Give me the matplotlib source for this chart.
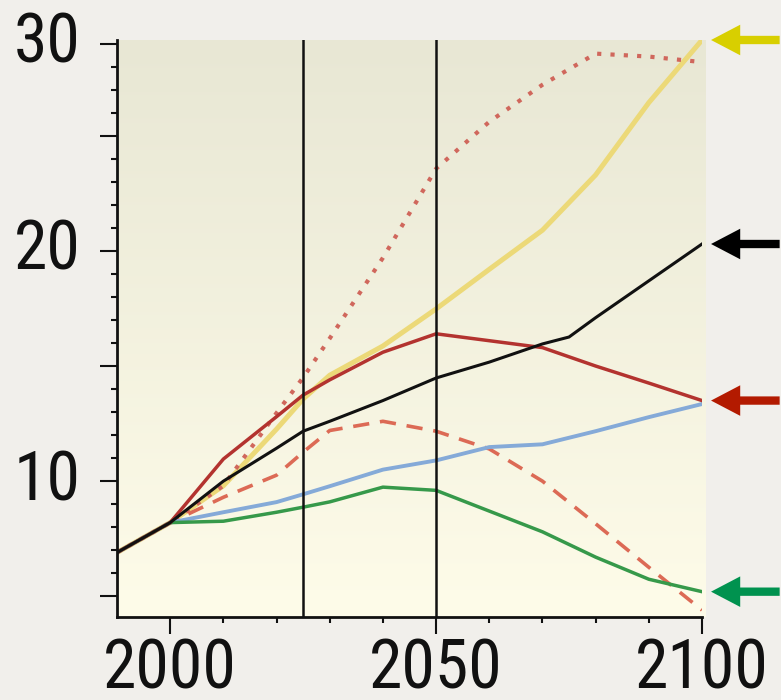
import numpy as np
import matplotlib
matplotlib.use("Agg")
import matplotlib.pyplot as plt
from matplotlib import font_manager
from matplotlib.font_manager import FontProperties
from matplotlib.transforms import ScaledTranslation

# ---- data -------------------------------------------------------------
years = [1990, 2000, 2010, 2020, 2025, 2030, 2040, 2050, 2060, 2070, 2080, 2090, 2100]
black_years = [1990, 2000, 2010, 2020, 2025, 2030, 2040, 2050, 2060, 2070, 2075, 2080, 2090, 2100]

black = [6.9, 8.2, 10.0, 11.43, 12.17, 12.6, 13.5, 14.48, 15.17, 15.96, 16.26, 17.1, 18.7, 20.3]
yellow = [6.9, 8.2, 9.8, 12.26, 13.57, 14.6, 15.87, 17.48, 19.2, 20.9, 23.3, 26.8, 30.2]
red_solid = [6.9, 8.2, 10.96, 12.8, 13.74, 14.4, 15.6, 16.4, 16.1, 15.8, 15.0, 14.26, 13.5]
red_dashed = [6.9, 8.2, 9.3, 10.26, 11.26, 12.2, 12.6, 12.17, 11.4, 10.0, 8.15, 6.26, 4.4]
red_dotted = [6.9, 8.2, 9.8, 12.96, 14.5, 16.2, 19.7, 23.57, 25.76, 27.77, 29.46, 29.3, 29.0]
blue = [6.9, 8.2, 8.65, 9.09, 9.43, 9.78, 10.5, 10.9, 11.48, 11.6, 12.17, 12.78, 13.35]
green = [6.9, 8.2, 8.26, 8.65, 8.87, 9.1, 9.74, 9.6, 8.7, 7.8, 6.7, 5.74, 5.2]

marker_years = [2025, 2050]
x_major = [2000, 2050, 2100]
x_labels = ["2000", "2050", "2100"]
y_major = [5, 10, 15, 20, 25, 30]
y_labels = ["", "10", "", "20", "", "30"]

# ---- fonts: prefer a narrow sans for the big tick numbers ---------------
def pick_label_font():
    entries = font_manager.fontManager.ttflist
    def regular(f):
        return f.style == "normal" and f.weight in (400, "normal", "regular", "book")
    prefs = ["Liberation Sans Narrow", "Roboto Condensed", "Open Sans Condensed",
             "Noto Sans Display", "DejaVu Sans"]
    for name in prefs:
        for f in entries:
            narrow = ("Narrow" in f.name or "Condensed" in f.name
                      or str(f.stretch) in ("condensed", "semi-condensed", "extra-condensed"))
            if f.name.startswith(name.split()[0]) and narrow and regular(f):
                return FontProperties(fname=f.fname)
    return FontProperties(family=["Liberation Sans", "DejaVu Sans"])

label_font = pick_label_font()
plt.rcParams["font.family"] = ["Liberation Sans", "DejaVu Sans"]

# ---- y scale: linear up to 25, compressed above -----------------------
def fwd(y):
    y = np.asarray(y, dtype=float)
    return np.where(y <= 25, y, 25 + (y - 25) * 0.8)

def inv(u):
    u = np.asarray(u, dtype=float)
    return np.where(u <= 25, u, 25 + (u - 25) / 0.8)

fig = plt.figure(figsize=(7.81, 7.00), dpi=100, facecolor="#f1efeb")

# size the tick numbers so a four-digit year is about 132 px wide and
# digits are at most about 54 px tall
renderer = fig.canvas.get_renderer()
probe = fig.text(0, 0, "2050", fontproperties=label_font, fontsize=54)
w = probe.get_window_extent(renderer).width
probe.remove()
label_size = 54 * min(1.0, 134 / w)
label_font.set_size(label_size)

ax = fig.add_axes([117 / 781, 1 - 617 / 700, (702 - 117) / 781, (617 - 40) / 700])
ax.set_facecolor("none")
ax.set_yscale("function", functions=(fwd, inv))
ax.set_xlim(1990, 2100)
ax.set_ylim(4.1, 30.2)

# background gradient inside the plot area
top = np.array([0.910, 0.906, 0.832])
bot = np.array([0.996, 0.988, 0.914])
t = np.linspace(0, 1, 256)[:, None, None]
grad = top * (1 - t) + bot * t
grad = np.repeat(grad, 4, axis=1)
ax.imshow(grad, extent=[0, 1.006, 0, 1], transform=ax.transAxes, aspect="auto",
          zorder=0, clip_on=False, interpolation="bicubic")

# ---- series -----------------------------------------------------------
ax.plot(years, yellow, color="#ecd978", lw=3.6, solid_capstyle="round", zorder=2)
ax.plot(years, red_dotted, color="#d0675c", lw=3.0, ls=(0, (1.0, 2.2)), zorder=2)
ax.plot(years, red_dashed, color="#dc6a55", lw=2.6, ls=(0, (4.5, 3.0)), zorder=2)
ax.plot(years, blue, color="#85aad8", lw=2.8, zorder=3)
ax.plot(years, green, color="#36994a", lw=2.5, zorder=3)
ax.plot(years, red_solid, color="#b3332f", lw=2.5, zorder=3)
ax.plot(black_years, black, color="#111111", lw=2.2, zorder=4)

for yr in marker_years:
    ax.axvline(yr, color="#111111", lw=1.8, zorder=5)

# ---- arrows pointing at series end values -----------------------------
arrow_specs = [
    (yellow[-1], "#d8cf00"),
    (black[-1], "#000000"),
    (red_solid[-1], "#b31a00"),
    (green[-1], "#00924f"),
]
for yv, col in arrow_specs:
    ax.annotate("", xy=(2101.7, yv), xytext=(2114.6, yv), xycoords="data",
                annotation_clip=False,
                arrowprops=dict(arrowstyle="simple,head_length=1.05,head_width=1.1,tail_width=0.3",
                                mutation_scale=20, color=col, lw=0,
                                shrinkA=0, shrinkB=0))

# ---- axes styling -----------------------------------------------------
for s in ["top", "right"]:
    ax.spines[s].set_visible(False)
for s in ["left", "bottom"]:
    ax.spines[s].set_linewidth(2.0)
    ax.spines[s].set_color("#111111")
    ax.spines[s].set_zorder(6)

ax.set_xticks(x_major)
ax.set_xticklabels(x_labels, fontproperties=label_font)
ax.set_xticks([y for y in range(2010, 2100, 10) if y not in x_major], minor=True)
ax.set_yticks(y_major)
ax.set_yticklabels(y_labels, fontproperties=label_font)
ax.set_yticks([v for v in range(6, 25) if v % 5 != 0] + [26.25, 27.5, 28.75], minor=True)

ax.tick_params(axis="both", which="major", length=12, width=1.5, color="#111111",
               labelcolor="#111111")
ax.tick_params(axis="both", which="minor", length=4.3, width=1.5, color="#111111")
ax.tick_params(axis="y", which="major", pad=14)
ax.tick_params(axis="x", which="major", pad=2)

shift = ScaledTranslation(0, 7 / 100, fig.dpi_scale_trans)
for lab in ax.get_yticklabels():
    lab.set_transform(lab.get_transform() + shift)

fig.savefig("out.png", dpi=100, facecolor=fig.get_facecolor())
